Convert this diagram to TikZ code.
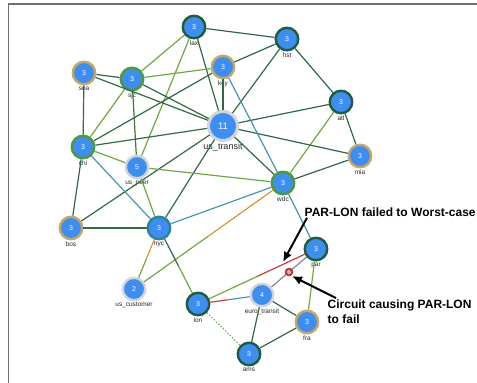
\documentclass[tikz,border=0pt]{standalone}
\usepackage{fontspec}
\setsansfont{Liberation Sans}
\usetikzlibrary{positioning, calc, arrows.meta}
\usepackage{xcolor}

\definecolor{nodeblue}{HTML}{3D8EF2}
\definecolor{ringdark}{HTML}{1F5C3A}
\definecolor{ringgreen}{HTML}{4E9A32}
\definecolor{ringtan}{HTML}{C8A664}
\definecolor{ringgray}{HTML}{D4D4D4}
\definecolor{ringteal}{HTML}{2A8690}
\definecolor{linkdark}{HTML}{2E6A46}
\definecolor{linklight}{HTML}{6DAA3C}
\definecolor{linkteal}{HTML}{4596B5}
\definecolor{linkorange}{HTML}{D8962E}
\definecolor{linkred}{HTML}{CC3B3B}
\definecolor{linkgray}{HTML}{858585}
\definecolor{framegray}{HTML}{707070}

\begin{document}
\begin{tikzpicture}[
    x=1pt, y=-1pt,
    router/.style={circle, fill=nodeblue, line width=2.4pt, minimum size=22.5pt,
        inner sep=0pt, text=white, font=\sffamily\fontsize{7}{7}\selectfont},
    hub/.style={router, line width=3pt, minimum size=29pt, font=\sffamily\fontsize{9.5}{9.5}\selectfont},
    lbl/.style={font=\sffamily\fontsize{6.5}{6.5}\selectfont, text=black!85, inner sep=1pt},
    biglbl/.style={font=\sffamily\fontsize{9}{9}\selectfont, text=black!85, inner sep=1pt},
    rdark/.style={draw=ringdark}, rgreen/.style={draw=ringgreen},
    rtan/.style={draw=ringtan}, rgray/.style={draw=ringgray}, rteal/.style={draw=ringteal},
    every edge/.append style={line width=1.2pt},
    dk/.style={draw=linkdark}, lt/.style={draw=linklight}, tl/.style={draw=linkteal},
    og/.style={draw=linkorange}, rd/.style={draw=linkred}, gy/.style={draw=linkgray},
    note/.style={font=\sffamily\bfseries\fontsize{12}{14.5}\selectfont, inner sep=1.5pt, align=left},
    callout/.style={line width=2pt, -{Latex[length=10pt,width=9pt]}},
    faultmark/.style={circle, fill=linkred, draw=linkred!80!black, line width=0.5pt, minimum size=8pt, inner sep=0pt},
    faulthole/.style={circle, draw=white, line width=0.7pt, minimum size=3pt, inner sep=0pt}
]
   \useasboundingbox (0,0) rectangle (477,383);
   \draw[framegray, line width=1.5pt] (8.5,383) -- (8.5,4) -- (477,4);

   % Routers
   \node[router, rdark] (lax) at (194,27) [label={[lbl]below:lax}] {3};
   \node[router, rdark] (hst) at (287,39) [label={[lbl]below:hst}] {3};
   \node[router, rtan] (kcy) at (223,67) [label={[lbl]below:kcy}] {3};
   \node[router, rtan] (sea) at (84,73) [label={[lbl]below:sea}] {3};
   \node[router, rgreen] (sjc) at (132,79) [label={[lbl]below:sjc}] {3};
   \node[router, rdark] (atl) at (341,102) [label={[lbl]below:atl}] {3};
   \node[hub, rgray] (us_transit) at (223,126) [label={[biglbl]below:us\_transit}] {11};
   \node[router, rtan] (mia) at (360,156) [label={[lbl]below:mia}] {3};
   \node[router, rgreen] (chi) at (83,147) [label={[lbl]below:chi}] {3};
   \node[router, rgray] (us_peer) at (137,167) [label={[lbl]below:us\_peer}] {5};
   \node[router, rgreen] (wdc) at (283,183) [label={[lbl]below:wdc}] {3};
   \node[router, rtan] (bos) at (71,228) [label={[lbl]below:bos}] {3};
   \node[router, rteal] (nyc) at (159,228) [label={[lbl]below:nyc}] {3};
   \node[router, rdark] (par) at (316,249) [label={[lbl]below:par}] {3};
   \node[router, rgray] (us_customer) at (134,289) [label={[lbl]below:us\_customer}] {2};
   \node[router, rgray] (euro_transit) at (262,295) [label={[lbl]below:euro\_transit}] {4};
   \node[router, rdark] (lon) at (198,304) [label={[lbl]below:lon}] {3};
   \node[router, rtan] (fra) at (307,322) [label={[lbl]below:fra}] {3};
   \node[router, rdark] (ams) at (249,354) [label={[lbl]below:ams}] {3};

   % Split links (one colour per direction)
   \coordinate (nc) at ($(nyc)!0.5!(us_customer)$);
   \coordinate (cw) at ($(us_customer)!0.5!(wdc)$);
   \coordinate (nl) at ($(nyc)!0.5!(lon)$);
   \coordinate (lp) at ($(lon)!0.5!(par)$);
   \coordinate (le) at ($(lon)!0.45!(euro_transit)$);

   % Links
   \path
   (lax) edge[dk] (hst)
   (lax) edge[lt] (sjc)
   (lax) edge[dk] (us_transit)
   (lax) edge[lt] (us_peer)
   (hst) edge[dk] (kcy)
   (hst) edge[dk] (us_transit)
   (hst) edge[dk] (atl)
   (atl) edge[dk] (mia)
   (atl) edge[dk] (us_transit)
   (atl) edge[lt] (wdc)
   (mia) edge[dk] (us_transit)
   (mia) edge[dk] (wdc)
   (sea) edge[dk] (sjc)
   (sea) edge[dk] (us_transit)
   (sea) edge[dk] (chi)
   (sjc) edge[lt] (kcy)
   (sjc) edge[dk] (us_transit)
   (sjc) edge[lt] (chi)
   (sjc) edge[draw=ringgreen!80!black] (us_peer)
   (kcy) edge[dk] (us_transit)
   (kcy) edge[dk] (chi)
   (kcy) edge[tl] (wdc)
   (us_transit) edge[dk] (wdc)
   (us_transit) edge[dk] (chi)
   (us_transit) edge[dk] (bos)
   (us_transit) edge[dk] (nyc)
   (chi) edge[lt] (us_peer)
   (chi) edge[tl] (nyc)
   (chi) edge[dk] (bos)
   (us_peer) edge[lt] (wdc)
   (us_peer) edge[lt] (nyc)
   (bos) edge[dk] (nyc)
   (nyc) edge[tl] (wdc)
   (nyc) edge[og] (nc) (nc) edge[lt] (us_customer)
   (us_customer) edge[lt] (cw) (cw) edge[og] (wdc)
   (nyc) edge[dk] (nl) (nl) edge[lt] (lon)
   (wdc) edge[tl] (par)
   (lon) edge[lt] (lp) (lp) edge[rd] (par)
   (lon) edge[rd] (le) (le) edge[tl] (euro_transit)
   (euro_transit) edge[gy] (par)
   (par) edge[lt] (fra)
   (euro_transit) edge[dk] (fra)
   (euro_transit) edge[dk] (ams)
   (fra) edge[dk] (ams)
   (lon) edge[lt, dotted] (ams);

   % Failed circuit
   \node[faultmark] (fault) at ($(euro_transit)!0.5!(par)$) {};
   \node[faulthole] (faultcore) at (fault) {};

   % Notes
   \node[note, anchor=base west] (failnote) at (303,216) {PAR-LON failed to Worst-case};
   \node[note, anchor=base west] (causenote) at (326,323) {Circuit causing PAR-LON\\to fail};
   \coordinate (failtip) at (283,262);
   \coordinate (causetip) at (292,276);
   \draw[callout] ([xshift=4pt]failnote.south west) -- (failtip);
   \draw[callout] ([xshift=10pt]causenote.north west) -- (causetip);
\end{tikzpicture}
\end{document}
